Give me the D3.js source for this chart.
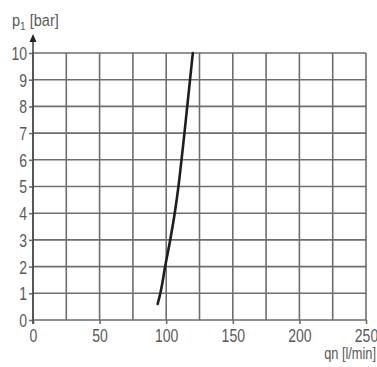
<!DOCTYPE html>
<html><head><meta charset="utf-8">
<script src="https://cdn.jsdelivr.net/npm/d3@7"></script>
<style>
html,body{margin:0;padding:0;background:#fff;}
svg{display:block;}
</style></head>
<body>
<script>
const qnValues = [93.6, 95.6, 99.2, 103.0, 106.4, 109.2, 111.5, 113.7, 115.8, 117.9, 120.0];
const pValues  = [0.6, 1, 2, 3, 4, 5, 6, 7, 8, 9, 10];
const xTicks = [0, 50, 100, 150, 200, 250];
const xGrid = [0, 25, 50, 75, 100, 125, 150, 175, 200, 225, 250];
const yTicks = [0, 1, 2, 3, 4, 5, 6, 7, 8, 9, 10];
const xTitle = "qn [l/min]";
const yTitleMain = "p";
const yTitleSub = "1";
const yTitleRest = " [bar]";

const W = 377, H = 367;
const font = "'Liberation Sans', Arial, sans-serif";
const gray = "#5a5a5a";
const sx = 0.78;
const svg = d3.select("body").append("svg").attr("width", W).attr("height", H);

const x = d3.scaleLinear().domain([0, 250]).range([33, 366]);
const y = d3.scaleLinear().domain([0, 10]).range([320, 53]);

const g = svg.append("g");
// grid
g.selectAll("line.vg").data(xGrid).join("line")
  .attr("x1", d => x(d)).attr("x2", d => x(d))
  .attr("y1", y(0)).attr("y2", y(10))
  .attr("stroke", "#6e6e6e").attr("stroke-width", 1.6);
g.selectAll("line.hg").data(yTicks).join("line")
  .attr("x1", x(0)).attr("x2", x(250))
  .attr("y1", d => y(d)).attr("y2", d => y(d))
  .attr("stroke", "#6e6e6e").attr("stroke-width", 1.6);

// y axis
const yAxis = d3.axisLeft(y).tickValues(yTicks).tickSize(4).tickFormat(d3.format("d"));
const ya = svg.append("g").attr("transform", `translate(${x(0)},0)`).call(yAxis);
ya.select(".domain").remove();
ya.selectAll(".tick line").attr("stroke", "#6e6e6e").attr("stroke-width", 1.6);
ya.selectAll(".tick text").attr("font-family", font).attr("font-size", 18)
  .attr("fill", gray).attr("x", -6 / sx).attr("dy", "0.36em")
  .attr("transform", `scale(${sx},1)`);

// x axis
const xAxis = d3.axisBottom(x).tickValues(xTicks).tickSize(4).tickFormat(d3.format("d"));
const xa = svg.append("g").attr("transform", `translate(0,${y(0)})`).call(xAxis);
xa.select(".domain").remove();
xa.selectAll(".tick line").attr("stroke", "#6e6e6e").attr("stroke-width", 1.6);
xa.selectAll(".tick text").attr("font-family", font).attr("font-size", 18)
  .attr("fill", gray).attr("y", 9).attr("dy", "0.71em")
  .attr("transform", `scale(${sx},1)`);

// y axis line with arrow
svg.append("line").attr("x1", x(0)).attr("x2", x(0)).attr("y1", y(0) + 4).attr("y2", 40)
  .attr("stroke", "#4a4a4a").attr("stroke-width", 1.6);
svg.append("path").attr("d", `M${x(0)},34 L${x(0)-3.5},42 L${x(0)+3.5},42 Z`).attr("fill", "#222");

// curve
const line = d3.line().x((d, i) => x(qnValues[i])).y((d, i) => y(pValues[i])).curve(d3.curveMonotoneY);
svg.append("path").datum(pValues).attr("d", line)
  .attr("fill", "none").attr("stroke", "#1e1e1e").attr("stroke-width", 2.6).attr("stroke-linecap", "round");

// titles
const ytx = 12, yty = 26, ysx = 0.88;
const yt = svg.append("text").attr("transform", `translate(${ytx},${yty}) scale(${ysx},1)`)
  .attr("font-family", font).attr("font-size", 16.5).attr("fill", gray);
yt.append("tspan").text(yTitleMain);
yt.append("tspan").attr("dy", 4).attr("font-size", 11.5).text(yTitleSub);
yt.append("tspan").attr("dy", -4).text(yTitleRest);

svg.append("text").attr("transform", `translate(376,359) scale(0.8,1)`).attr("text-anchor", "end")
  .attr("font-family", font).attr("font-size", 16).attr("fill", gray).text(xTitle);
</script>
</body></html>
